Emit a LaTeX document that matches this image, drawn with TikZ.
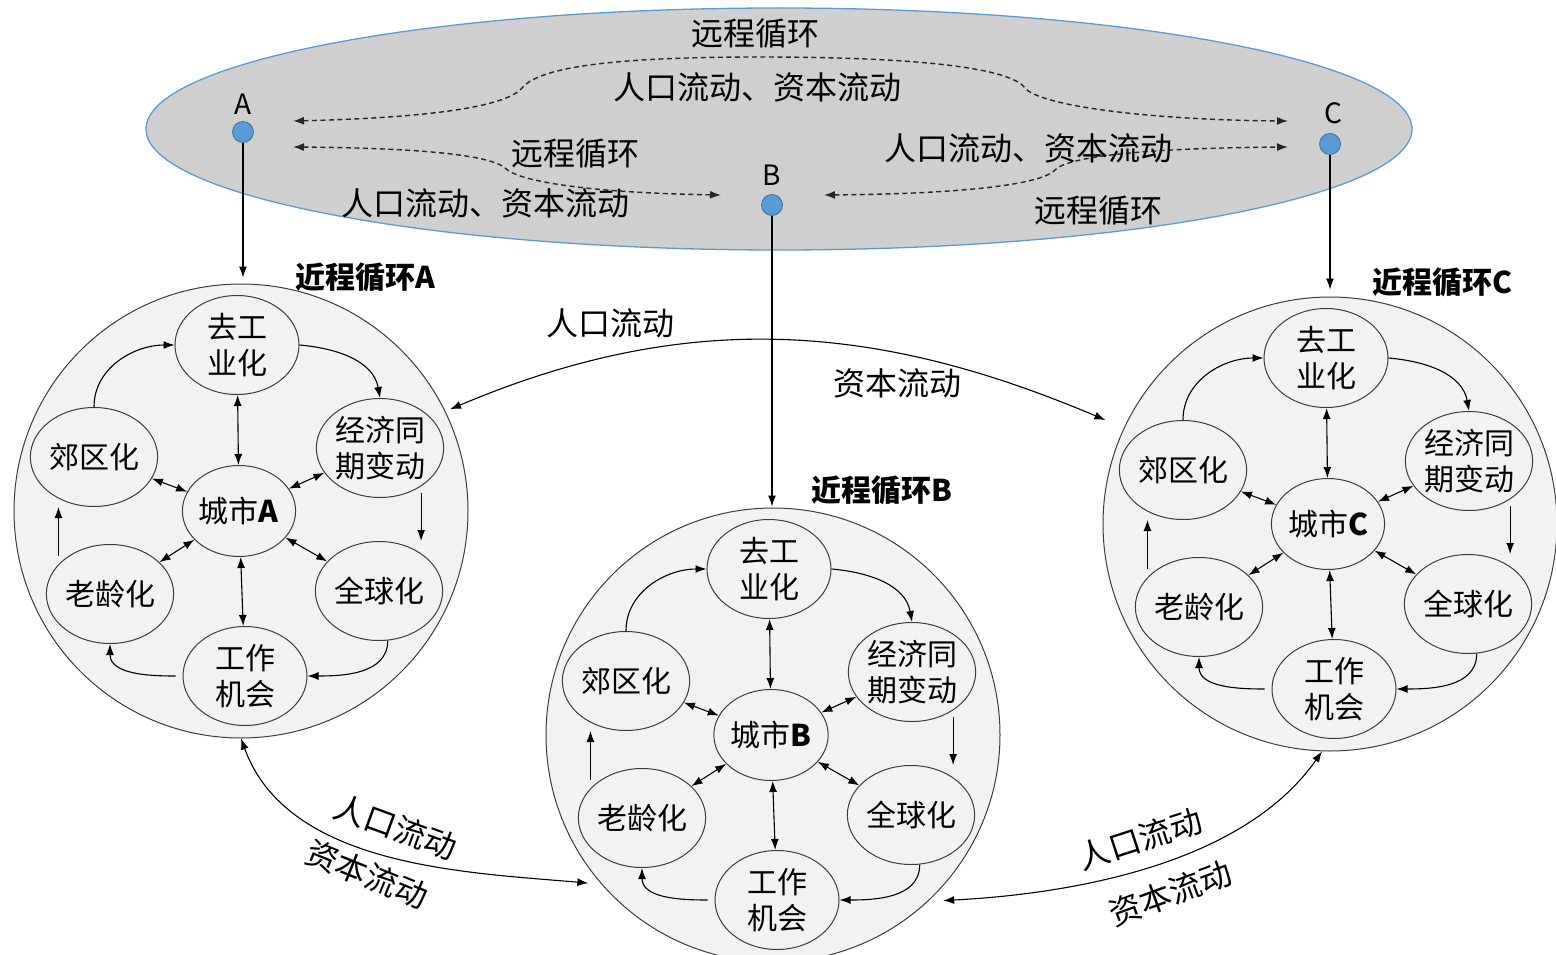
\documentclass[tikz,border=0pt]{standalone}
\usepackage{fontspec}
\setmainfont{Noto Sans CJK SC}
\usetikzlibrary{arrows.meta,shapes.geometric}

\definecolor{remotegray}{RGB}{207,207,207}
\definecolor{remoteblue}{RGB}{91,155,213}
\definecolor{dotblue}{RGB}{91,155,213}
\definecolor{dotedge}{RGB}{65,113,156}
\definecolor{loopfill}{RGB}{242,242,242}
\definecolor{edgegray}{RGB}{60,60,60}

\begin{document}
\begin{tikzpicture}[x=1pt,y=-1pt,>={Latex[length=11pt,width=8pt]}]
\tikzstyle{remote} = [ellipse, draw=remoteblue, line width=1.3pt, fill=remotegray,
minimum width=1266pt, minimum height=242pt]
\tikzstyle{city} = [circle, draw=dotedge, fill=dotblue, line width=0.8pt,
minimum size=21pt, inner sep=0pt]
\tikzstyle{cityname} = [font=\fontsize{28}{30}\selectfont]
\tikzstyle{loopcirc} = [circle, draw=edgegray, line width=1pt, fill=loopfill,
minimum size=454pt, inner sep=0pt]
\tikzstyle{factor} = [ellipse, draw=edgegray, line width=1pt, fill=loopfill,
minimum width=124pt, minimum height=99pt, inner sep=0pt, align=center,
font=\fontsize{30}{36}\selectfont]
\tikzstyle{core} = [factor, minimum width=112pt, minimum height=91pt]
\tikzstyle{flow} = [font=\fontsize{32}{36}\selectfont]
\tikzstyle{looplabel} = [font=\bfseries\fontsize{30}{34}\selectfont]
\tikzstyle{remoteline} = [draw=black!85, line width=1.4pt, dash pattern=on 5pt off 3.5pt, <->]
\tikzstyle{line} = [draw, line width=1.1pt, ->]
\tikzstyle{both} = [draw, line width=1.1pt, <->]

\useasboundingbox (0,0) rectangle (1556,955);

% remote coupling
\node [remote] (remote) at (779,129) {};
\node [city] (dotA) at (243,132) {};
\node [city] (dotB) at (772,205) {};
\node [city] (dotC) at (1330,144) {};
\node [cityname] (labA) at (243,104) {A};
\node [cityname] (labB) at (772,175) {B};
\node [cityname] (labC) at (1333,113) {C};

\coordinate (ac-l) at (293,121);
\coordinate (ac-r) at (1288,121);
\coordinate (ab-l) at (293,147);
\coordinate (ab-r) at (721,195);
\coordinate (bc-l) at (824,195);
\coordinate (bc-r) at (1288,147);

\path [remoteline] (ac-l) .. controls (420,118) and (505,108) .. (522,88)
  .. controls (540,66) and (620,57) .. (760,57)
  .. controls (920,57) and (1010,68) .. (1025,88)
  .. controls (1040,106) and (1150,120) .. (ac-r);
\path [remoteline] (ab-l) .. controls (420,148) and (490,155) .. (505,168)
  .. controls (520,183) and (600,193) .. (ab-r);
\path [remoteline] (bc-l) .. controls (950,194) and (1040,186) .. (1055,170)
  .. controls (1068,156) and (1150,148) .. (bc-r);

\node [flow] (t1) at (755,33) {远程循环};
\node [flow] (t2) at (757,87) {人口流动、资本流动};
\node [flow] (t3) at (575,153) {远程循环};
\node [flow] (t4) at (485,203) {人口流动、资本流动};
\node [flow] (t5) at (1028,148) {人口流动、资本流动};
\node [flow] (t6) at (1098,210) {远程循环};

% nearby loops
\foreach \c/\px/\py/\lx/\ly in {A/241/511/365/277, B/773/735/882/490, C/1330/524/1442/282} {
  \node [loopcirc] (\c-loop) at (\px,\py) {};
  \node [looplabel] (\c-title) at (\lx,\ly) {近程循环\c};
  \begin{scope}[shift={(\px,\py)}]
    \node [factor] (\c-deind) at (-4,-166) {去工\\业化};
    \node [factor] (\c-econ) at (139,-63) {经济同\\期变动};
    \node [factor] (\c-glob) at (138,80) {全球化};
    \node [factor] (\c-job) at (4,165) {工作\\机会};
    \node [factor] (\c-aging) at (-131,83) {老龄化};
    \node [factor] (\c-suburb) at (-147,-54) {郊区化};
    \node [core] (\c-city) at (-2,0) {城市\textbf{\c}};
  \end{scope}
  \path [line] (\c-deind.east) to[out=-5,in=100] (\c-econ.north);
  \path [line, shorten <=7pt] (\c-econ.-43) -- (\c-econ.-43 |- \c-glob.north);
  \path [line] (\c-glob.-80) to[out=-90,in=0] (\c-job.east);
  \path [line, shorten <=7pt] (\c-job.west) to[out=180,in=-90] (\c-aging.south);
  \path [line, shorten <=8pt] (\c-aging.150) -- (\c-aging.150 |- \c-suburb.south);
  \path [line] (\c-suburb.north) to[out=90,in=180] (\c-deind.west);
  \foreach \f in {deind,econ,glob,job,aging,suburb}
    \path [both] (\c-city) -- (\c-\f);
}

\path [line, shorten >=6pt] (dotA) -- (dotA |- A-loop.north);
\path [line, shorten >=1pt] (dotB) -- (dotB |- B-loop.north);
\path [line, shorten >=7pt] (dotC) -- (dotC |- C-loop.north);

% flows between loops
\path [both, shorten <=5pt, shorten >=20pt] (A-loop.26) to[out=23,in=157] (C-loop.155);
\path [both, shorten >=13pt] (A-loop.south) to[out=-70,in=175,looseness=0.9] (B-loop.221);
\path [both, shorten <=15pt] (B-loop.-47) to[out=3,in=-125,looseness=0.85] (C-loop.-92);

\node [flow] (f1) at (610,323) {人口流动};
\node [flow] (f2) at (897,383) {资本流动};
\node [flow, rotate=-20] (f3) at (396,827) {人口流动};
\node [flow, rotate=-22] (f4) at (367,874) {资本流动};
\node [flow, rotate=18] (f5) at (1140,839) {人口流动};
\node [flow, rotate=20] (f6) at (1170,893) {资本流动};

\end{tikzpicture}
\end{document}
